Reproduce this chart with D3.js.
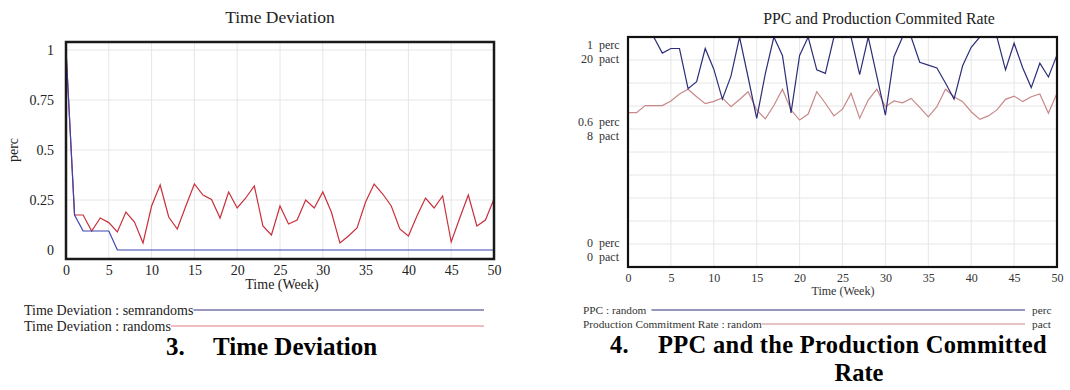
<!DOCTYPE html>
<html>
<head>
<meta charset="utf-8">
<script src="https://cdn.jsdelivr.net/npm/d3@7"></script>
<style>
  body { margin: 0; background: #fff; }
  svg { display: block; font-family: "Liberation Serif", "Times New Roman", serif; }
</style>
</head>
<body>
<svg id="chart" width="1070" height="390"></svg>
<script>
// weeks 0..50
const weeks = d3.range(0, 51)

// Time Deviation (perc)
const semrandoms = [1, 0.175, 0.095, 0.095, 0.095, 0.095, 0, 0, 0, 0,
  0, 0, 0, 0, 0, 0, 0, 0, 0, 0,
  0, 0, 0, 0, 0, 0, 0, 0, 0, 0,
  0, 0, 0, 0, 0, 0, 0, 0, 0, 0,
  0, 0, 0, 0, 0, 0, 0, 0, 0, 0, 0]
const randoms = [1, 0.175, 0.175, 0.095, 0.16, 0.137, 0.09, 0.19, 0.14, 0.035,
  0.22, 0.325, 0.165, 0.105, 0.22, 0.33, 0.275, 0.253, 0.16, 0.29,
  0.21, 0.26, 0.32, 0.12, 0.075, 0.22, 0.13, 0.15, 0.25, 0.21,
  0.29, 0.19, 0.035, 0.07, 0.11, 0.24, 0.33, 0.28, 0.22, 0.105,
  0.07, 0.17, 0.26, 0.21, 0.27, 0.04, 0.16, 0.275, 0.12, 0.15, 0.255]

// PPC (perc) and Production Commitment Rate (pact)
const ppc = [1, 1, 1, 1, 0.93, 0.95, 0.95, 0.775, 0.806, 0.95,
  0.86, 0.73, 0.83, 1, 0.825, 0.646, 0.84, 1, 0.92, 0.67,
  0.92, 1, 0.857, 0.842, 1, 1, 1, 0.836, 1, 0.83,
  0.66, 0.914, 1, 1, 0.89, 0.878, 0.865, 0.8, 0.73, 0.875,
  0.955, 1, 1, 1, 0.857, 0.973, 0.866, 0.78, 0.886, 0.826, 0.922]
const commitRate = [13.42, 13.42, 14.04, 14.04, 14.04, 14.44, 15.04, 15.46, 14.8, 14.2,
  14.4, 14.7, 13.94, 14.56, 15.24, 13.66, 12.88, 14.04, 15.46, 13.66,
  12.78, 13.3, 15.24, 14.24, 13.14, 13.72, 15.1, 12.94, 14.52, 15.46,
  13.94, 14.44, 14.28, 14.66, 13.88, 13.06, 13.94, 15.46, 14.8, 14.38,
  13.5, 12.84, 13.14, 13.66, 14.58, 14.86, 14.38, 14.8, 15.04, 13.36, 15.1]

const xTicks = d3.range(0, 51, 5)
const leftYTicks = [0, 0.25, 0.5, 0.75, 1]
const percTicks = [0, 0.6, 1]
const pactTicks = [0, 8, 20]

var svg = d3.select('#chart')
var gridColor = "#e6e6e6"
var textColor = "#222"

// ---------- left chart: Time Deviation ----------
var L = {left: 66, right: 494, top: 42, bottom: 259}
var xL = d3.scaleLinear().domain([0, 50]).range([L.left, L.right])
var yL = d3.scaleLinear().domain([-0.045, 1.04]).range([L.bottom, L.top])

var left = svg.append("g")

left.append("g").selectAll("line.v")
  .data(xTicks.slice(1, -1))
  .join("line")
  .attr("x1", d => xL(d)).attr("x2", d => xL(d))
  .attr("y1", L.top).attr("y2", L.bottom)
  .attr("stroke", gridColor)
left.append("g").selectAll("line.h")
  .data(leftYTicks.slice(1))
  .join("line")
  .attr("x1", L.left).attr("x2", L.right)
  .attr("y1", d => yL(d)).attr("y2", d => yL(d))
  .attr("stroke", gridColor)

var yAxisL = left.append("g")
  .attr("transform", `translate(${L.left},0)`)
  .call(d3.axisLeft(yL).tickValues(leftYTicks).tickSize(0).tickPadding(12).tickFormat(d => String(d)))
yAxisL.select(".domain").remove()
yAxisL.selectAll("text").attr("font-size", 14).attr("font-family", "Liberation Serif").attr("fill", textColor)

var xAxisL = left.append("g")
  .attr("transform", `translate(0,${L.bottom})`)
  .call(d3.axisBottom(xL).tickValues(xTicks).tickSize(0).tickPadding(6))
xAxisL.select(".domain").remove()
xAxisL.selectAll("text").attr("font-size", 14).attr("font-family", "Liberation Serif").attr("fill", textColor)

var lineL = (vals) => d3.line().x((d, i) => xL(weeks[i])).y(d => yL(d))(vals)
left.append("path").attr("d", lineL(randoms)).attr("fill", "none").attr("stroke", "#c8303c").attr("stroke-width", 1.2)
left.append("path").attr("d", lineL(semrandoms)).attr("fill", "none").attr("stroke", "#3a46b0").attr("stroke-width", 1.2)

left.append("rect")
  .attr("x", L.left).attr("y", L.top)
  .attr("width", L.right - L.left).attr("height", L.bottom - L.top)
  .attr("fill", "none").attr("stroke", "#1a1a1a").attr("stroke-width", 2.5)

left.append("text").attr("x", 280).attr("y", 23).attr("text-anchor", "middle")
  .attr("font-size", 17.5).attr("fill", textColor).text("Time Deviation")
left.append("text").attr("transform", "translate(18,150) rotate(-90)").attr("text-anchor", "middle")
  .attr("font-size", 14).attr("fill", textColor).text("perc")
left.append("text").attr("x", 282).attr("y", 289).attr("text-anchor", "middle")
  .attr("font-size", 14).attr("fill", textColor).text("Time (Week)")

var legL = [
  {label: "Time Deviation : semrandoms", color: "#33337f", y: 310},
  {label: "Time Deviation : randoms", color: "#e07a80", y: 326}
]
legL.forEach(d => {
  var t = left.append("text").attr("x", 24).attr("y", d.y + 5)
    .attr("font-size", 14).attr("fill", textColor).text(d.label)
  var w = t.node().getComputedTextLength()
  left.append("line").attr("x1", 24 + w).attr("x2", 484)
    .attr("y1", d.y).attr("y2", d.y).attr("stroke", d.color).attr("stroke-width", 1.2)
})

var capL = svg.append("text").attr("y", 355).attr("font-size", 25).attr("font-weight", "bold").attr("fill", "#000")
capL.append("tspan").attr("x", 166).text("3.")
capL.append("tspan").attr("x", 213).text("Time Deviation")

// ---------- right chart: PPC and Production Commited Rate ----------
var R = {left: 628, right: 1057, top: 37, bottom: 267}
var xR = d3.scaleLinear().domain([0, 50]).range([R.left, R.right])
var yPerc = d3.scaleLinear().domain([0, 1]).range([R.bottom, R.top])
var yPact = d3.scaleLinear().domain([0, 20]).range([R.bottom, R.top])

var right = svg.append("g")

right.append("g").selectAll("line")
  .data(xTicks.slice(1, -1))
  .join("line")
  .attr("x1", d => xR(d)).attr("x2", d => xR(d))
  .attr("y1", R.top).attr("y2", R.bottom)
  .attr("stroke", gridColor)
right.append("g").selectAll("line")
  .data(d3.range(1, 10).map(i => i / 10))
  .join("line")
  .attr("x1", R.left).attr("x2", R.right)
  .attr("y1", d => yPerc(d)).attr("y2", d => yPerc(d))
  .attr("stroke", gridColor)

var xAxisR = right.append("g")
  .attr("transform", `translate(0,${R.bottom})`)
  .call(d3.axisBottom(xR).tickValues(xTicks).tickSize(0).tickPadding(6))
xAxisR.select(".domain").remove()
xAxisR.selectAll("text").attr("font-size", 12).attr("font-family", "Liberation Serif").attr("fill", "#333")

// paired perc / pact labels on the left side
percTicks.forEach((v, i) => {
  var c = Math.max(R.top + 15, Math.min(R.bottom - 17, yPerc(v)))
  var rows = [[String(v), "perc", c - 7], [String(pactTicks[i]), "pact", c + 7]]
  rows.forEach(r => {
    right.append("text").attr("x", 593).attr("y", r[2] + 4).attr("text-anchor", "end")
      .attr("font-size", 12).attr("fill", "#333").text(r[0])
    right.append("text").attr("x", 599).attr("y", r[2] + 4)
      .attr("font-size", 12).attr("fill", "#333").text(r[1])
  })
})

right.append("clipPath").attr("id", "clipR").append("rect")
  .attr("x", R.left).attr("y", R.top).attr("width", R.right - R.left).attr("height", R.bottom - R.top)

right.append("path")
  .attr("d", d3.line().x((d, i) => xR(weeks[i])).y(d => yPact(d))(commitRate))
  .attr("fill", "none").attr("stroke", "#c98888").attr("stroke-width", 1.2).attr("clip-path", "url(#clipR)")
right.append("path")
  .attr("d", d3.line().x((d, i) => xR(weeks[i])).y(d => yPerc(d))(ppc))
  .attr("fill", "none").attr("stroke", "#2c2f78").attr("stroke-width", 1.2).attr("clip-path", "url(#clipR)")

right.append("rect")
  .attr("x", R.left).attr("y", R.top)
  .attr("width", R.right - R.left).attr("height", R.bottom - R.top)
  .attr("fill", "none").attr("stroke", "#111").attr("stroke-width", 2.2)

right.append("text").attr("x", 879).attr("y", 24).attr("text-anchor", "middle")
  .attr("font-size", 15.8).attr("fill", textColor).text("PPC and Production Commited Rate")
right.append("text").attr("x", 843).attr("y", 295).attr("text-anchor", "middle")
  .attr("font-size", 12).attr("fill", "#333").text("Time (Week)")

var legR = [
  {label: "PPC : random", unit: "perc", color: "#2c2f78", y: 310},
  {label: "Production Commitment Rate : random", unit: "pact", color: "#c98888", y: 324}
]
legR.forEach(d => {
  var t = right.append("text").attr("x", 583).attr("y", d.y + 4)
    .attr("font-size", 11.3).attr("fill", "#333").text(d.label)
  var w = t.node().getComputedTextLength()
  right.append("line").attr("x1", 583 + w + (d.unit === "perc" ? 5 : 0)).attr("x2", 1025)
    .attr("y1", d.y).attr("y2", d.y).attr("stroke", d.color).attr("stroke-width", 1)
  right.append("text").attr("x", 1032).attr("y", d.y + 4)
    .attr("font-size", 11.3).attr("fill", "#333").text(d.unit)
})

var capR = svg.append("text").attr("y", 353).attr("font-size", 24.5).attr("font-weight", "bold").attr("fill", "#000")
  .attr("letter-spacing", 0.3)
capR.append("tspan").attr("x", 610).text("4.")
capR.append("tspan").attr("x", 658).text("PPC and the Production Committed")
svg.append("text").attr("x", 859).attr("y", 381).attr("text-anchor", "middle")
  .attr("font-size", 24.5).attr("font-weight", "bold").attr("fill", "#000").text("Rate")
</script>
</body>
</html>
